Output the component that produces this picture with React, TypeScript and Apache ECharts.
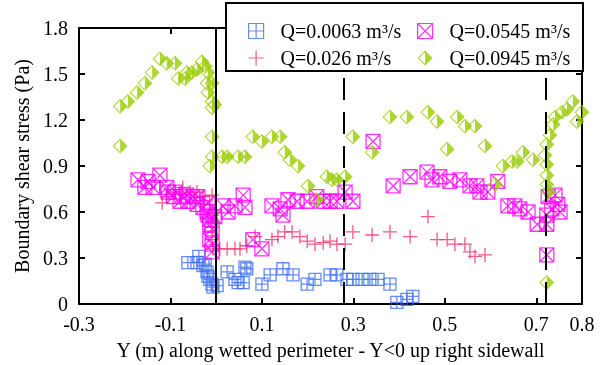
import React, { useEffect, useRef } from "react";
import * as echarts from "echarts";

// Axis extents
const xMin = -0.3;
const xMax = 0.8;
const yMin = 0;
const yMax = 1.8;

// Section boundaries along the wetted perimeter (m)
const boundaryLines = [0, 0.28, 0.72];

const names = ["Q=0.0063 m³/s", "Q=0.026 m³/s", "Q=0.0545 m³/s", "Q=0.0945 m³/s"];

const q0063: [number, number][] = [
  [-0.062, 0.27], [-0.042, 0.27], [-0.038, 0.31], [-0.029, 0.25], [-0.024, 0.26],
  [-0.02, 0.21], [-0.018, 0.18], [-0.014, 0.16], [-0.009, 0.13], [-0.007, 0.11],
  [0.002, 0.12], [0.024, 0.21], [0.041, 0.16], [0.048, 0.14], [0.059, 0.14],
  [0.063, 0.24], [0.067, 0.23], [0.1, 0.13], [0.118, 0.19], [0.146, 0.23],
  [0.168, 0.19], [0.199, 0.13], [0.216, 0.16], [0.249, 0.19], [0.264, 0.19],
  [0.286, 0.16], [0.299, 0.16], [0.319, 0.16], [0.336, 0.16], [0.354, 0.16],
  [0.38, 0.13], [0.395, 0.01], [0.417, 0.03], [0.43, 0.05],
];

const q026: [number, number][] = [
  [-0.118, 0.66], [-0.108, 0.7], [-0.09, 0.73], [-0.073, 0.76], [-0.057, 0.73],
  [-0.042, 0.73], [-0.029, 0.7], [-0.009, 0.71], [-0.014, 0.65], [-0.009, 0.58],
  [-0.009, 0.5], [-0.009, 0.42], [-0.007, 0.36], [0.008, 0.36], [0.024, 0.36],
  [0.041, 0.36], [0.052, 0.36], [0.067, 0.38], [0.085, 0.44], [0.122, 0.42],
  [0.135, 0.44], [0.15, 0.47], [0.166, 0.47], [0.183, 0.44], [0.199, 0.41],
  [0.216, 0.39], [0.234, 0.4], [0.249, 0.41], [0.264, 0.39], [0.282, 0.39],
  [0.299, 0.47], [0.341, 0.45], [0.38, 0.47], [0.424, 0.44], [0.463, 0.57],
  [0.483, 0.42], [0.505, 0.42], [0.522, 0.39], [0.544, 0.39], [0.555, 0.34],
  [0.566, 0.31], [0.588, 0.32],
];

const q0545: [number, number][] = [
  [-0.171, 0.81], [-0.149, 0.8], [-0.156, 0.76], [-0.138, 0.76], [-0.123, 0.84],
  [-0.108, 0.76], [-0.105, 0.73], [-0.09, 0.73], [-0.094, 0.7], [-0.079, 0.67],
  [-0.075, 0.7], [-0.064, 0.71], [-0.062, 0.67], [-0.051, 0.7], [-0.042, 0.65],
  [-0.04, 0.7], [-0.029, 0.63], [-0.02, 0.6], [-0.018, 0.66], [-0.018, 0.58],
  [-0.014, 0.55], [-0.014, 0.52], [-0.009, 0.49], [-0.014, 0.42], [-0.009, 0.39],
  [-0.009, 0.34], [-0.003, 0.57], [0.015, 0.64], [0.026, 0.6], [0.041, 0.64],
  [0.059, 0.71], [0.063, 0.63], [0.08, 0.42], [0.1, 0.36], [0.122, 0.64],
  [0.14, 0.62], [0.146, 0.58], [0.157, 0.68], [0.177, 0.67], [0.199, 0.67],
  [0.22, 0.7], [0.234, 0.67], [0.249, 0.67], [0.264, 0.67], [0.282, 0.73],
  [0.299, 0.67], [0.343, 1.06], [0.387, 0.77], [0.424, 0.83], [0.461, 0.86],
  [0.472, 0.81], [0.489, 0.83], [0.511, 0.8], [0.533, 0.81], [0.555, 0.77],
  [0.57, 0.77], [0.577, 0.73], [0.594, 0.73], [0.616, 0.8], [0.638, 0.64],
  [0.653, 0.64], [0.664, 0.62], [0.682, 0.6], [0.702, 0.52], [0.723, 0.52],
  [0.723, 0.32], [0.726, 0.7], [0.741, 0.71], [0.747, 0.65], [0.734, 0.62],
  [0.723, 0.58], [0.752, 0.6],
];

const q0945: [number, number][] = [
  [-0.21, 1.03], [-0.21, 1.29], [-0.193, 1.32], [-0.173, 1.38], [-0.156, 1.44],
  [-0.14, 1.51], [-0.123, 1.6], [-0.108, 1.57], [-0.09, 1.57], [-0.083, 1.47],
  [-0.068, 1.47], [-0.064, 1.51], [-0.053, 1.51], [-0.042, 1.53], [-0.031, 1.58],
  [-0.024, 1.55], [-0.018, 1.51], [-0.02, 1.44], [-0.009, 1.44], [-0.018, 1.38],
  [-0.009, 1.32], [-0.009, 1.28], [-0.003, 1.3], [-0.009, 1.09], [-0.009, 0.96],
  [-0.014, 0.9], [0.013, 0.96], [0.024, 0.96], [0.048, 0.96], [0.063, 0.96],
  [0.08, 1.09], [0.1, 1.06], [0.122, 1.09], [0.14, 1.09], [0.15, 0.99],
  [0.161, 0.94], [0.179, 0.9], [0.201, 0.77], [0.22, 0.68], [0.242, 0.83],
  [0.253, 0.81], [0.264, 0.81], [0.282, 0.83], [0.299, 1.09], [0.341, 0.99],
  [0.38, 1.22], [0.417, 1.22], [0.463, 1.25], [0.483, 1.19], [0.505, 1.01],
  [0.527, 1.22], [0.544, 1.16], [0.566, 1.16], [0.588, 1.03], [0.61, 0.78],
  [0.627, 0.9], [0.647, 0.93], [0.658, 0.93], [0.671, 0.99], [0.693, 0.94],
  [0.719, 0.97], [0.723, 0.91], [0.723, 0.84], [0.723, 0.78], [0.726, 0.73],
  [0.723, 1.04], [0.723, 0.14], [0.73, 1.1], [0.737, 1.17], [0.741, 1.22],
  [0.756, 1.25], [0.767, 1.27], [0.78, 1.32], [0.789, 1.19], [0.8, 1.25],
];

const FONT = "Liberation Serif";
const SYM_GRID = "path://M0 0 L20 0 L20 20 L0 20 Z M10 0 L10 20 M0 10 L20 10";
const SYM_XBOX = "path://M0 0 L20 0 L20 20 L0 20 Z M0 0 L20 20 M20 0 L0 20";
const SYM_PLUS = "path://M10 0 L10 20 M0 10 L20 10";
const SYM_HALF = "path://M10 0 L20 10 L10 20 Z M10 0 L0 10 L10 20 L10 18 L2 10 L10 2 Z";

const BLUE = "#3f6ff0";
const RED = "#f0306a";
const MAGENTA = "#ff00ff";
const GREEN = "#99cc00";

export default function App() {
  const ref = useRef<HTMLDivElement>(null);
  useEffect(() => {
    if (!ref.current) return;
    const chart = echarts.init(ref.current, undefined, { renderer: "svg" });
    const fmt = (v: number) => (Math.abs(v) < 1e-9 ? "0" : v.toFixed(1));
    const axisCommon = {
      type: "value" as const,
      axisLine: { show: true, onZero: false, lineStyle: { color: "#000", width: 2 } },
      axisTick: { show: true, inside: true, length: 6, lineStyle: { color: "#000", width: 2 } },
      splitLine: { show: false },
    };
    const legendCommon = {
      orient: "vertical" as const,
      top: 21,
      itemWidth: 15,
      itemHeight: 15,
      itemGap: 7,
      padding: 0,
      z: 20,
      selectedMode: false,
      textStyle: { fontSize: 20, fontFamily: FONT, color: "#000", padding: [0, 0, 0, 12] },
    };
    chart.setOption({
      animation: false,
      grid: { left: 79, right: 28, top: 28, bottom: 60 },
      xAxis: [
        {
          ...axisCommon,
          position: "bottom",
          min: xMin,
          max: xMax,
          interval: 0.2,
          name: "Y (m) along wetted perimeter - Y<0 up right sidewall",
          nameLocation: "middle",
          nameGap: 36,
          nameTextStyle: { fontSize: 20, fontFamily: FONT, color: "#000" },
          axisLabel: { fontSize: 20, fontFamily: FONT, color: "#000", margin: 10, formatter: fmt, showMaxLabel: true, showMinLabel: true },
        },
        {
          ...axisCommon,
          position: "top",
          min: xMin,
          max: xMax,
          interval: 0.2,
          axisLabel: { show: false },
        },
      ],
      yAxis: [
        {
          ...axisCommon,
          position: "left",
          min: yMin,
          max: yMax,
          interval: 0.3,
          name: "Boundary shear stress (Pa)",
          nameLocation: "middle",
          nameGap: 33,
          nameTextStyle: { fontSize: 20, fontFamily: FONT, color: "#000" },
          axisLabel: { fontSize: 20, fontFamily: FONT, color: "#000", margin: 11, formatter: fmt },
        },
        {
          ...axisCommon,
          position: "right",
          min: yMin,
          max: yMax,
          interval: 0.3,
          axisLabel: { show: false },
        },
      ],
      legend: [
        {
          ...legendCommon,
          left: 248,
          data: [
            { name: names[0], itemStyle: { borderWidth: 1.2 } },
            { name: names[1], itemStyle: { borderWidth: 1.2 } },
          ],
        },
        {
          ...legendCommon,
          left: 417,
          data: [
            { name: names[2], itemStyle: { borderWidth: 1.2 } },
            { name: names[3] },
          ],
        },
      ],
      graphic: [
        {
          type: "rect",
          z: 10,
          shape: { x: 226, y: 3, width: 357, height: 68 },
          style: { fill: "#fff", stroke: "#000", lineWidth: 2 },
        },
      ],
      series: [
        {
          name: names[0],
          type: "scatter",
          data: q0063,
          symbol: SYM_GRID,
          symbolSize: 12,
          itemStyle: { color: "transparent", borderColor: BLUE, borderWidth: 1.3 },
          emphasis: { disabled: true },
          markLine: {
            silent: true,
            symbol: "none",
            label: { show: false },
            data: boundaryLines.map((x, i) => ({
              xAxis: x,
              lineStyle: { color: "#000", width: 2, type: i === 0 ? "solid" : [22, 12] },
            })),
          },
        },
        {
          name: names[1],
          type: "scatter",
          data: q026,
          symbol: SYM_PLUS,
          symbolSize: 14,
          itemStyle: { color: "transparent", borderColor: RED, borderWidth: 1.3 },
          emphasis: { disabled: true },
        },
        {
          name: names[2],
          type: "scatter",
          data: q0545,
          symbol: SYM_XBOX,
          symbolSize: 14,
          itemStyle: { color: "transparent", borderColor: MAGENTA, borderWidth: 1.3 },
          emphasis: { disabled: true },
        },
        {
          name: names[3],
          type: "scatter",
          data: q0945,
          symbol: SYM_HALF,
          symbolSize: 15,
          itemStyle: { color: GREEN },
          emphasis: { disabled: true },
        },
      ],
    });
    return () => chart.dispose();
  }, []);
  return <div ref={ref} style={{ position: "fixed", left: 0, top: 0, width: 610, height: 365 }} />;
}
